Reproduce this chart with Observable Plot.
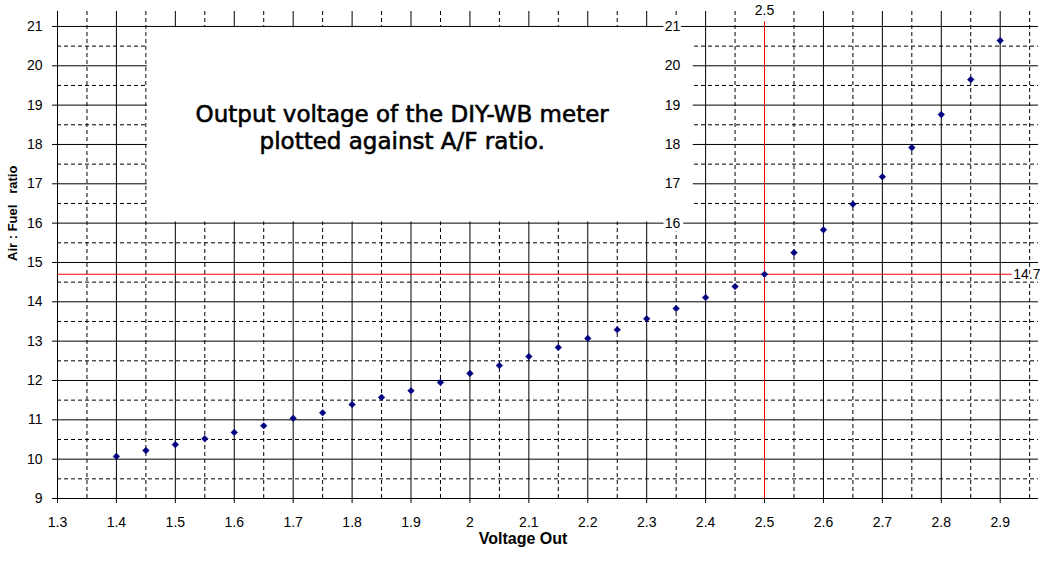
<!DOCTYPE html>
<html>
<head>
<meta charset="utf-8">
<script src="https://cdn.jsdelivr.net/npm/d3@7"></script>
<script src="https://cdn.jsdelivr.net/npm/@observablehq/plot@0.6"></script>
<style>
  html, body { margin: 0; padding: 0; background: #fff; }
  svg { display: block; }
</style>
</head>
<body>
<div id="chart"></div>
<script>
// ---- data ----
const voltage = [1.40, 1.45, 1.50, 1.55, 1.60, 1.65, 1.70, 1.75, 1.80, 1.85, 1.90, 1.95, 2.00, 2.05, 2.10, 2.15, 2.20, 2.25, 2.30, 2.35, 2.40, 2.45, 2.50, 2.55, 2.60, 2.65, 2.70, 2.75, 2.80, 2.85, 2.90];
const afr = [10.07, 10.22, 10.37, 10.52, 10.68, 10.85, 11.04, 11.18, 11.39, 11.57, 11.74, 11.95, 12.18, 12.38, 12.61, 12.84, 13.07, 13.29, 13.57, 13.83, 14.11, 14.39, 14.70, 15.25, 15.83, 16.48, 17.18, 17.92, 18.76, 19.65, 20.64];

const xTicks = [1.3, 1.4, 1.5, 1.6, 1.7, 1.8, 1.9, 2.0, 2.1, 2.2, 2.3, 2.4, 2.5, 2.6, 2.7, 2.8, 2.9];
const xMinor = [1.35, 1.45, 1.55, 1.65, 1.75, 1.85, 1.95, 2.05, 2.15, 2.25, 2.35, 2.45, 2.55, 2.65, 2.75, 2.85, 2.95];
const yTicks = [9, 10, 11, 12, 13, 14, 15, 16, 17, 18, 19, 20, 21];
const yMinor = [9.5, 10.5, 11.5, 12.5, 13.5, 14.5, 15.5, 16.5, 17.5, 18.5, 19.5, 20.5];
const boxTicks = [16, 17, 18, 19, 20, 21];

const stoichV = 2.5;
const stoichAFR = 14.7;

const titleText = "Output voltage of the DIY-WB meter\nplotted against A/F ratio.";
const xLabel = "Voltage Out";
const yLabel = "Air\u00a0:\u00a0Fuel\u00a0\u00a0\u00a0ratio";

// ---- layout ----
const xDomain = [1.3, 2.965];
const yDomain = [9, 21.38];
const box = {x1: 1.4525, x2: 2.379, y1: 16.03, y2: 20.97};
const boxLabelX = 2.357;
const titlePos = {x: 1.885, y: 18.45};
const redTop = 21.11;
const redRight = 2.9205;
const yLabelPos = {x: 1.2245, y: 16.25};

const points = voltage.map((v, i) => ({v, a: afr[i]}));
const font = "'Liberation Sans', Arial, sans-serif";

const chart = Plot.plot({
  width: 1046,
  height: 563,
  marginLeft: 57,
  marginRight: 8,
  marginTop: 11,
  marginBottom: 65,
  style: {fontFamily: font, fontSize: "14px", color: "#000", background: "#fff"},
  x: {domain: xDomain},
  y: {domain: yDomain},
  marks: [
    // minor grid (dashed)
    Plot.ruleX(xMinor, {stroke: "#000", strokeDasharray: "4,3", strokeWidth: 1}),
    Plot.ruleY(yMinor, {stroke: "#000", strokeDasharray: "4,3", strokeWidth: 1}),
    // major grid (solid)
    Plot.ruleX(xTicks, {stroke: "#000", strokeWidth: 1}),
    Plot.ruleY(yTicks, {stroke: "#000", strokeWidth: 1}),
    // white annotation box
    Plot.rect([box], {x1: "x1", x2: "x2", y1: "y1", y2: "y2", fill: "#fff"}),
    Plot.text(boxTicks, {x: boxLabelX, y: d => d, text: d => String(d), textAnchor: "end",
      fill: "#000", stroke: "#fff", strokeWidth: 7, paintOrder: "stroke", fontSize: 14}),
    Plot.text([titleText], {x: titlePos.x, y: titlePos.y, text: d => d, fontSize: 23, lineAnchor: "middle",
      fontFamily: "'DejaVu Sans', Verdana, sans-serif", lineHeight: 1.16, fill: "#000",
      stroke: "#000", strokeWidth: 0.6}),
    // red reference lines
    Plot.ruleX([stoichV], {x: d => d, y1: redTop, y2: yDomain[1], stroke: "#fff", strokeWidth: 3}),
    Plot.ruleX([stoichV], {x: d => d, y1: yDomain[0], y2: redTop, stroke: "#ff0000", strokeWidth: 1}),
    Plot.ruleY([stoichAFR], {y: d => d, x1: xDomain[0], x2: redRight, stroke: "#ff0000", strokeWidth: 1}),
    Plot.text([stoichV], {x: d => d, frameAnchor: "top", lineAnchor: "middle", dy: -1, text: d => String(d),
      fill: "#000", stroke: "#fff", strokeWidth: 4, paintOrder: "stroke", fontSize: 14}),
    Plot.text([stoichAFR], {x: redRight, y: d => d, dx: 1, textAnchor: "start", text: d => String(d),
      fill: "#000", stroke: "#fff", strokeWidth: 4, paintOrder: "stroke", fontSize: 14}),
    // data
    Plot.dot(points, {x: "v", y: "a", symbol: "diamond2", r: 3, fill: "#000080", stroke: "#000080", strokeWidth: 0.5}),
    // axes
    Plot.axisX(xTicks, {tickSize: 5, tickPadding: 14, tickFormat: d => String(+d.toFixed(1)), label: null, fontSize: 14}),
    Plot.axisY(yTicks, {tickSize: 5, tickPadding: 10, tickFormat: d => String(d), label: null, fontSize: 14}),
    // axis titles
    Plot.text([xLabel], {frameAnchor: "bottom", lineAnchor: "middle", dx: -25, dy: 40, text: d => d,
      fontWeight: "bold", fontSize: 16, fill: "#000"}),
    Plot.text([yLabel], {x: yLabelPos.x, y: yLabelPos.y, lineAnchor: "middle", rotate: -90, text: d => d,
      fontWeight: "bold", fontSize: 13, fill: "#000"})
  ]
});

document.getElementById("chart").appendChild(chart);
</script>
</body>
</html>
